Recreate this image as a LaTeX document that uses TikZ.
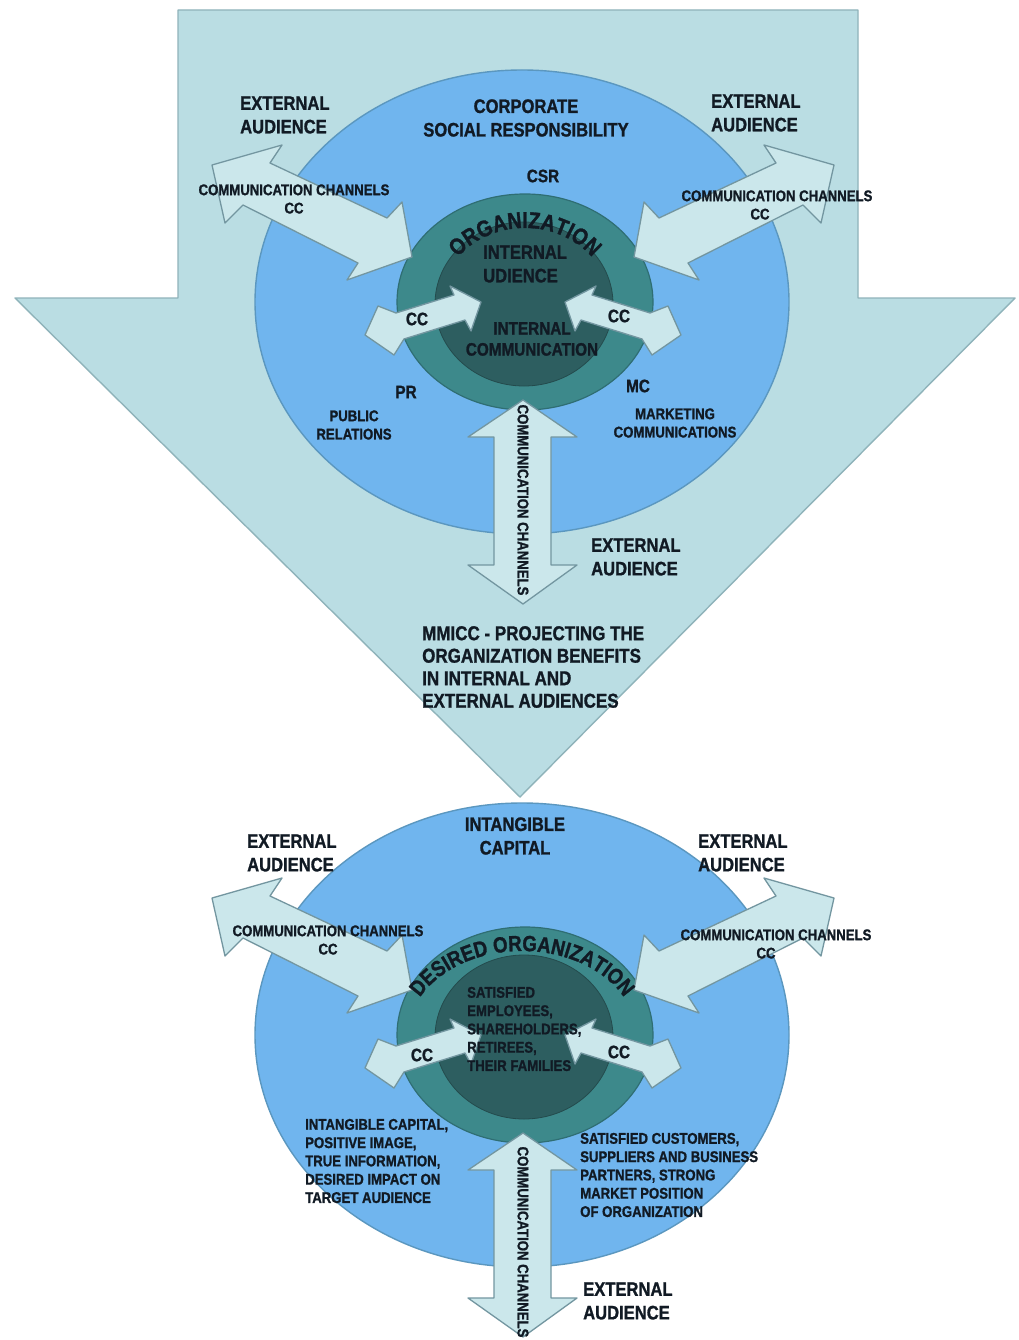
\documentclass[tikz,border=0pt]{standalone}
\usepackage{fontspec}
\newfontfamily\lblfont[FakeStretch=0.85,FakeBold=1.2]{Liberation Sans Bold}
\usetikzlibrary{decorations.text}
\definecolor{bigfill}{HTML}{BADDE3}
\definecolor{bigline}{HTML}{8FB3BA}
\definecolor{ovalfill}{HTML}{70B5EE}
\definecolor{ovalline}{HTML}{5B97BF}
\definecolor{ringfill}{HTML}{3D898B}
\definecolor{ringline}{HTML}{2F6E73}
\definecolor{innerfill}{HTML}{2D5E60}
\definecolor{arrfill}{HTML}{CBE7EB}
\definecolor{arrline}{HTML}{7396A0}
\definecolor{txt}{HTML}{111A24}
\begin{document}
\begin{tikzpicture}[x=1pt,y=1pt,
  bigshape/.style={fill=bigfill,draw=bigline,line width=1.4pt,line join=round},
  ovalshape/.style={fill=ovalfill,draw=ovalline,line width=1.4pt},
  ringshape/.style={fill=ringfill,draw=ringline,line width=1.2pt},
  innershape/.style={fill=innerfill,draw=innerfill!80!black,line width=0.8pt},
  blockarrow/.style={fill=arrfill,draw=arrline,line width=1.3pt,line join=round},
  biglabel/.style={font=\lblfont\fontsize{19.5}{23.5}\selectfont,text=txt,inner sep=0pt},
  mmlabel/.style={font=\lblfont\fontsize{20}{22.5}\selectfont,text=txt,inner sep=0pt},
  midlabel/.style={font=\lblfont\fontsize{18}{21}\selectfont,text=txt,inner sep=0pt},
  smalllabel/.style={font=\lblfont\fontsize{15.5}{18.3}\selectfont,text=txt,inner sep=0pt},
]
\useasboundingbox (0,0) rectangle (1018,-1340);
\fill[white] (0,0) rectangle (1018,-1340);
% big downward arrow
\draw[bigshape] (178,-10) -- (858,-10) -- (858,-298) -- (1015,-298) -- (520,-797) -- (15,-298) -- (178,-298) -- cycle;
% two repeated circle groups
\foreach \dy in {0,733} {
 \begin{scope}[yshift=-\dy*1pt]
  \draw[ovalshape] (522,-302) ellipse [x radius=267pt, y radius=232pt];
  \draw[ringshape] (525,-302) ellipse [x radius=128pt, y radius=108pt];
  \draw[innershape] (524,-304) ellipse [x radius=89pt, y radius=82pt];
  % diagonal double arrows
  \draw[blockarrow] (212,-165) -- (282,-145) -- (270,-163) -- (387,-218) -- (402,-202) -- (412,-257) -- (347,-280) -- (358,-263) -- (243,-205) -- (225,-223) -- cycle;
  \draw[blockarrow] (834,-165) -- (764,-145) -- (776,-163) -- (659,-218) -- (644,-202) -- (634,-257) -- (699,-280) -- (688,-263) -- (803,-205) -- (821,-223) -- cycle;
  % CC arrows
  \draw[blockarrow] (365,-335) -- (378,-306) -- (396,-313) -- (454,-295) -- (450,-286) -- (481,-302) -- (471,-331) -- (465,-320) -- (404,-339) -- (394,-355) -- cycle;
  \draw[blockarrow] (681,-335) -- (668,-306) -- (650,-313) -- (592,-295) -- (596,-286) -- (565,-302) -- (575,-331) -- (581,-320) -- (642,-339) -- (652,-355) -- cycle;
  % vertical arrow
  \draw[blockarrow] (523,-400) -- (577,-437) -- (551,-437) -- (551,-565) -- (577,-565) -- (523,-604) -- (468,-565) -- (494,-565) -- (494,-437) -- (468,-437) -- cycle;
 \end{scope}
}
% curved labels
\path[decorate,decoration={text along path,text align=center,
  text={|\lblfont\fontsize{23}{23}\selectfont\color{txt}|ORGANIZATION}}]
  (525,-302) ++(155:84pt and 74pt) arc[start angle=155,end angle=25,x radius=84pt,y radius=74pt];
\path[decorate,decoration={text along path,text align=center,
  text={|\lblfont\fontsize{22}{22}\selectfont\color{txt}|DESIRED ORGANIZATION}}]
  (522,-1035) ++(166:114pt and 84pt) arc[start angle=166,end angle=14,x radius=114pt,y radius=84pt];
% top labels
\node[biglabel,align=left,anchor=west] (eaTL) at (240,-115) {EXTERNAL\\AUDIENCE};
\node[biglabel,align=center] (csrtitle) at (526,-118) {CORPORATE\\SOCIAL RESPONSIBILITY};
\node[biglabel,align=left,anchor=west] (eaTR) at (711,-113) {EXTERNAL\\AUDIENCE};
\node[midlabel] (csr) at (543,-176) {CSR};
\node[smalllabel,align=center] (ccTL) at (294,-199) {COMMUNICATION CHANNELS\\CC};
\node[smalllabel,align=center] (ccTR) at (777,-205) {COMMUNICATION CHANNELS\\\hspace*{-34pt}CC};
\node[biglabel,align=left,anchor=west] (intaud) at (483,-264) {INTERNAL\\UDIENCE};
\node[midlabel] (ccl1) at (417,-319) {CC};
\node[midlabel] (ccr1) at (619,-316) {CC};
\node[midlabel,align=center] (intcom) at (532,-339) {INTERNAL\\COMMUNICATION};
\node[midlabel] (pr) at (406,-392) {PR};
\node[midlabel] (mc) at (638,-386) {MC};
\node[smalllabel,align=center] (pubrel) at (354,-425) {PUBLIC\\RELATIONS};
\node[smalllabel,align=center] (mktcom) at (675,-423) {MARKETING\\COMMUNICATIONS};
\node[smalllabel,rotate=-90] (vt1) at (523,-500) {COMMUNICATION CHANNELS};
\node[biglabel,align=left,anchor=west] (eaM) at (591,-557) {EXTERNAL\\AUDIENCE};
\node[mmlabel,align=left,anchor=west] (mmicc) at (422,-667) {MMICC - PROJECTING THE\\ORGANIZATION BENEFITS\\IN INTERNAL AND\\EXTERNAL AUDIENCES};
% bottom labels
\node[biglabel,align=center] (intcap) at (515,-836) {INTANGIBLE\\CAPITAL};
\node[biglabel,align=left,anchor=west] (eaBL) at (247,-853) {EXTERNAL\\AUDIENCE};
\node[biglabel,align=left,anchor=west] (eaBR) at (698,-853) {EXTERNAL\\AUDIENCE};
\node[smalllabel,align=center] (ccBL) at (328,-940) {COMMUNICATION CHANNELS\\CC};
\node[smalllabel,align=center] (ccBR) at (776,-944) {COMMUNICATION CHANNELS\\\hspace*{-20pt}CC};
\node[smalllabel,align=left,anchor=west] (satemp) at (467,-1029) {SATISFIED\\EMPLOYEES,\\SHAREHOLDERS,\\RETIREES,\\THEIR FAMILIES};
\node[midlabel] (ccl2) at (422,-1055) {CC};
\node[midlabel] (ccr2) at (619,-1052) {CC};
\node[smalllabel,align=left,anchor=west] (intlist) at (305,-1161) {INTANGIBLE CAPITAL,\\POSITIVE IMAGE,\\TRUE INFORMATION,\\DESIRED IMPACT ON\\TARGET AUDIENCE};
\node[smalllabel,align=left,anchor=west] (satcust) at (580,-1175) {SATISFIED CUSTOMERS,\\SUPPLIERS AND BUSINESS\\PARTNERS, STRONG\\MARKET POSITION\\OF ORGANIZATION};
\node[smalllabel,rotate=-90] (vt2) at (523,-1242) {COMMUNICATION CHANNELS};
\node[biglabel,align=left,anchor=west] (eaB) at (583,-1301) {EXTERNAL\\AUDIENCE};
\end{tikzpicture}
\end{document}
